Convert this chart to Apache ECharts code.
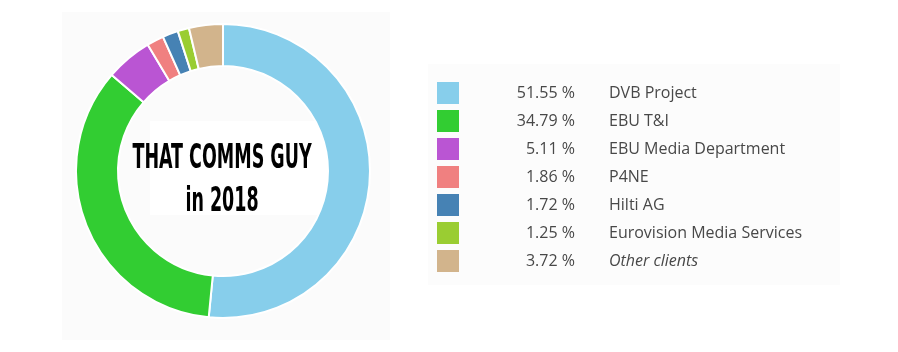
<!DOCTYPE html>
<html><head><meta charset="utf-8">
<script src="https://cdn.jsdelivr.net/npm/echarts@6/dist/echarts.min.js"></script>
<style>html,body{margin:0;padding:0;background:#ffffff;}#c{width:898px;height:352px;}</style>
</head><body><div id="c"></div>
<script>
var categories = ['DVB Project','EBU T&I','EBU Media Department','P4NE','Hilti AG','Eurovision Media Services','Other clients'];
var values = [51.55, 34.79, 5.11, 1.86, 1.72, 1.25, 3.72];
var colors = ['#87CEEB','#32CD32','#BA55D3','#F08080','#4682B4','#9ACD32','#D2B48C'];
var titleLines = ['THAT COMMS GUY','in 2018'];

var chart = echarts.init(document.getElementById('c'), null, {renderer:'canvas'});
var data = categories.map(function(n,i){return {name:n, value:values[i], itemStyle:{color:colors[i]}};});
var titleFont = 'bold 34px "Liberation Sans Narrow", "DejaVu Sans Condensed", sans-serif';
chart.setOption({
  backgroundColor:'#ffffff',
  animation:false,
  legend:{
    orient:'vertical', left:437, top:82, padding:0,
    icon:'rect', itemWidth:22, itemHeight:22, itemGap:6,
    itemStyle:{borderWidth:0},
    selectedMode:false,
    data:categories,
    formatter:function(name){
      var i = categories.indexOf(name);
      var p = values[i].toFixed(2)+' %';
      return '{p|'+p+'}{'+(i===categories.length-1?'i':'n')+'|'+name+'}';
    },
    textStyle:{
      fontFamily:'Open Sans', fontSize:16, color:'#484848', lineHeight:22,
      rich:{
        p:{width:111, align:'right', fontFamily:'Open Sans', fontSize:16, color:'#484848', lineHeight:22},
        n:{align:'right', padding:[0,0,0,34], fontFamily:'Open Sans', fontSize:16, color:'#484848', lineHeight:22},
        i:{align:'right', padding:[0,0,0,34], fontFamily:'Open Sans', fontSize:16, color:'#484848', fontStyle:'italic', lineHeight:22}
      }
    }
  },
  graphic:[
    {type:'rect', shape:{x:62,y:12,width:328,height:328}, style:{fill:'#fbfbfb'}, z:-10, silent:true},
    {type:'rect', shape:{x:428,y:64,width:412,height:221}, style:{fill:'#fcfcfc'}, z:-10, silent:true},
    {type:'rect', shape:{x:150,y:121,width:178,height:94}, style:{fill:'#ffffff'}, z:0, silent:true},
    {type:'text', x:222, y:159, scaleX:0.572, z:10,
      style:{text:titleLines[0], font:titleFont, fill:'#000', textAlign:'center', textVerticalAlign:'middle'}},
    {type:'text', x:222, y:202, scaleX:0.572, z:10,
      style:{text:titleLines[1], font:titleFont, fill:'#000', textAlign:'center', textVerticalAlign:'middle'}}
  ],
  series:[{
    type:'pie', center:[223,171], radius:[105,147], startAngle:90, clockwise:true,
    label:{show:false}, labelLine:{show:false}, silent:true,
    itemStyle:{borderColor:'#ffffff', borderWidth:2},
    data:data
  }]
});
</script></body></html>
